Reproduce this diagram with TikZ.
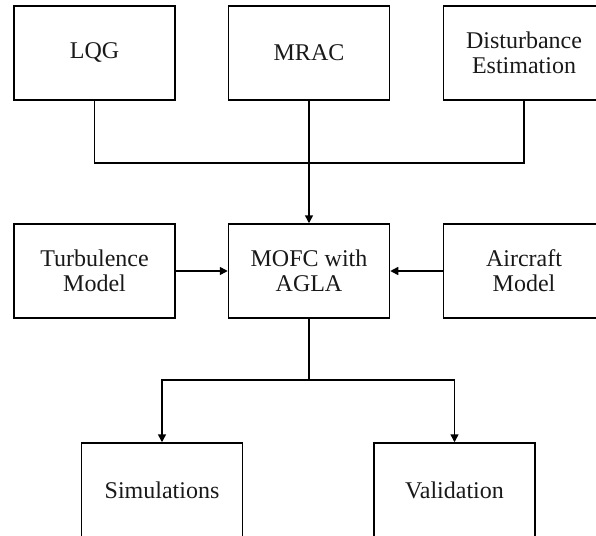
\documentclass[tikz,border=0pt]{standalone}
\usepackage{fontspec}
\setmainfont{Liberation Serif}
\usetikzlibrary{arrows.meta}
\begin{document}
\begin{tikzpicture}[x=1pt,y=1pt,
  blockbox/.style={draw, line width=1.5pt, minimum width=161pt, minimum height=94pt,
    inner sep=0pt, align=center, font=\fontsize{24}{25}\selectfont, text=black!90},
  link/.style={line width=1.5pt},
  flow/.style={link, -{Triangle[length=8pt,width=8pt]}}]
\useasboundingbox (0,0) rectangle (596,-535);
\clip (0,0) rectangle (596,-535);
% top row: controllers and estimator
\node[blockbox] (lqg)  at (94.5,-53) {LQG};
\node[blockbox] (mrac) at (309,-53) {MRAC};
\node[blockbox] (dist) at (524,-53) {Disturbance\\Estimation};
% middle row: models feeding the core method
\node[blockbox] (turb) at (94.5,-271) {Turbulence\\Model};
\node[blockbox] (mofc) at (309,-271) {MOFC with\\AGLA};
\node[blockbox] (air)  at (524,-271) {Aircraft\\Model};
% bottom row: outcomes
\node[blockbox] (sim) at (162,-490) {Simulations};
\node[blockbox] (val) at (454.5,-490) {Validation};
% bus joining the top row
\coordinate (bus) at (309,-163);
\draw[link] (lqg.south) |- (bus);
\draw[link] (dist.south) |- (bus);
\draw[flow] (mrac.south) -- (mofc.north);
% model inputs
\draw[flow] (turb.east) -- (mofc.west);
\draw[flow] (air.west) -- (mofc.east);
% split to outcomes
\coordinate (split) at (309,-380);
\draw[link] (mofc.south) -- (split);
\draw[flow] (split) -| (sim.north);
\draw[flow] (split) -| (val.north);
\end{tikzpicture}
\end{document}
